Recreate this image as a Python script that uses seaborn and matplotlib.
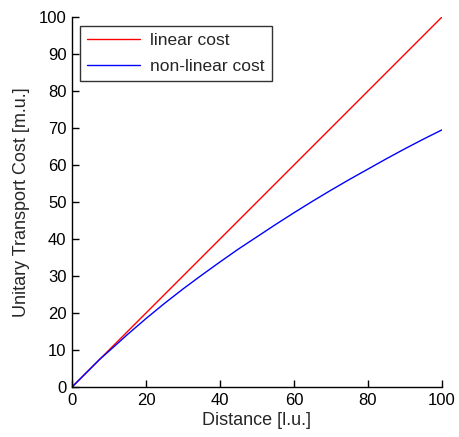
import matplotlib
matplotlib.use("Agg")
import matplotlib.pyplot as plt
import numpy as np
import pandas as pd
import seaborn as sns

# values
distance = [0, 7.5, 10, 15, 20, 25, 30, 35, 40, 45, 50, 55, 60, 65, 70, 75, 80, 85, 90, 95, 100]
linear_cost = [0, 7.5, 10, 15, 20, 25, 30, 35, 40, 45, 50, 55, 60, 65, 70, 75, 80, 85, 90, 95, 100]
nonlinear_cost = [0, 7.5, 9.7, 14.2, 18.5, 22.6, 26.5, 30.2, 33.8, 37.3, 40.6, 43.9, 47.1,
                  50.2, 53.2, 56.1, 58.9, 61.7, 64.4, 67.0, 69.5]

df = pd.DataFrame({
    "Distance": distance * 2,
    "Cost": linear_cost + nonlinear_cost,
    "Type": ["linear cost"] * len(distance) + ["non-linear cost"] * len(distance),
})

sns.set_style("ticks")
plt.rcParams["font.family"] = ["Liberation Sans", "DejaVu Sans"]

fig = plt.figure(figsize=(4.59, 4.37), dpi=100)
ax = fig.add_axes([0.1569, 0.1144, 0.806, 0.8467])

sns.lineplot(data=df, x="Distance", y="Cost", hue="Type",
             palette={"linear cost": "#ff0000", "non-linear cost": "#0000ff"},
             linewidth=1, ax=ax)

ax.set_xlim(0, 100)
ax.set_ylim(0, 100)
ax.set_xticks(range(0, 101, 20))
ax.set_yticks(range(0, 101, 10))
ax.tick_params(direction="in", length=5, width=1, labelsize=12, colors="black", pad=4)
for s in ["top", "right"]:
    ax.spines[s].set_visible(False)
for s in ["left", "bottom"]:
    ax.spines[s].set_color("black")
    ax.spines[s].set_linewidth(1)

ax.set_xlabel("Distance [l.u.]", fontsize=13, labelpad=3)
ax.set_ylabel("Unitary Transport Cost [m.u.]", fontsize=13, labelpad=6)

leg = ax.legend(loc="upper left", bbox_to_anchor=(0.022, 0.976), borderaxespad=0,
                fontsize=12.5, frameon=True, fancybox=False, handlelength=3.0,
                handletextpad=0.6, borderpad=0.42, labelspacing=0.6)
leg.get_frame().set_edgecolor("black")
leg.get_frame().set_linewidth(1)

fig.savefig("out.png", dpi=100)
